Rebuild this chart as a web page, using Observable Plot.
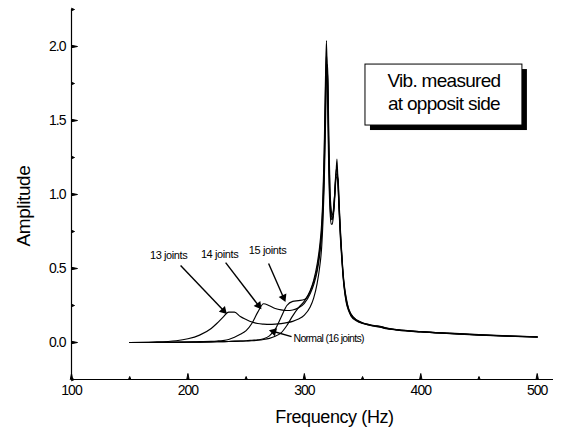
<!DOCTYPE html>
<html>
<head>
<meta charset="utf-8">
<script src="https://cdn.jsdelivr.net/npm/d3@7"></script>
<script src="https://cdn.jsdelivr.net/npm/@observablehq/plot@0.6"></script>
<style>
  body { margin: 0; background: #fff; }
  #chart svg { display: block; }
  g[aria-label="x-axis tick label"] text,
  g[aria-label="y-axis tick label"] text { letter-spacing: -1px; }
  .note text { letter-spacing: -0.4px; }
  .note-wide text { letter-spacing: -0.7px; }
  .title text { letter-spacing: -0.4px; }
  .box text { letter-spacing: -0.7px; }
</style>
</head>
<body>
<div id="chart"></div>
<script>
// Frequency grid (Hz) shared by all four response curves
const freq = [150,170,190,200,210,220,225,230,235,240,245,250,255,260,265,270,275,280,285,290,295,300,305,308,311,313,315,316,317,318,319,320,321,322,323,324,325,326,327,328,329,330,331,332,333,334,336,338,340,345,350,355,360,365,370,380,400,425,450,475,500];

// Vibration amplitude measured at the opposite side
const ampNormal = [0,0,0.001,0.002,0.003,0.004,0.005,0.006,0.007,0.008,0.009,0.01,0.012,0.015,0.02,0.028,0.042,0.065,0.115,0.18,0.235,0.28,0.35,0.42,0.53,0.64,0.82,1.0,1.28,1.72,2.04,1.62,1.15,0.9,0.8,0.8,0.86,0.96,1.1,1.24,1.05,0.86,0.7,0.58,0.47,0.38,0.27,0.215,0.18,0.145,0.128,0.118,0.11,0.104,0.094,0.084,0.071,0.06,0.05,0.042,0.036];
const amp15 = [0,0,0.001,0.002,0.003,0.004,0.005,0.006,0.007,0.009,0.01,0.012,0.015,0.018,0.025,0.045,0.09,0.17,0.25,0.278,0.283,0.29,0.345,0.41,0.5,0.61,0.78,0.95,1.22,1.64,1.95,1.74,1.24,0.95,0.84,0.83,0.88,0.99,1.14,1.18,1.06,0.88,0.72,0.6,0.48,0.39,0.28,0.22,0.185,0.148,0.13,0.12,0.112,0.106,0.096,0.085,0.072,0.061,0.051,0.043,0.037];
const amp14 = [0,0.001,0.003,0.004,0.006,0.008,0.01,0.013,0.02,0.035,0.055,0.08,0.13,0.205,0.262,0.248,0.23,0.22,0.216,0.22,0.235,0.265,0.33,0.39,0.48,0.58,0.74,0.9,1.14,1.52,1.86,1.8,1.32,1.0,0.87,0.84,0.88,0.99,1.12,1.14,1.08,0.9,0.74,0.61,0.49,0.4,0.29,0.225,0.19,0.15,0.132,0.121,0.113,0.108,0.097,0.086,0.073,0.062,0.052,0.044,0.038];
const amp13 = [0,0.003,0.012,0.025,0.05,0.095,0.13,0.17,0.205,0.205,0.175,0.155,0.138,0.128,0.124,0.122,0.124,0.128,0.134,0.143,0.158,0.185,0.24,0.3,0.4,0.5,0.66,0.82,1.05,1.4,1.78,1.88,1.4,1.04,0.9,0.86,0.9,1.0,1.1,1.12,1.1,0.92,0.76,0.62,0.5,0.41,0.3,0.23,0.194,0.152,0.134,0.123,0.115,0.11,0.099,0.087,0.074,0.063,0.053,0.045,0.039];

const seriesNames = ["Normal (16 joints)", "15 joints", "14 joints", "13 joints"];
const seriesValues = [ampNormal, amp15, amp14, amp13];

// Axes
const xDomain = [100, 514];
const yDomain = [-0.25, 2.25];
const xMajor = [100, 200, 300, 400, 500];
const xMinor = [150, 250, 350, 450];
const yMajor = [0, 0.5, 1.0, 1.5, 2.0];
const yMinor = [-0.25, 0.25, 0.75, 1.25, 1.75, 2.25];

// Curve labels with their pointer arrows (data units)
const labels = [
  {text: "13 joints", x: 183.4, y: 0.588},
  {text: "14 joints", x: 227.2, y: 0.595},
  {text: "15 joints", x: 268.4, y: 0.622}
];
const normalLabel = [{text: "Normal (16 joints)", x: 290.7, y: 0.027}];
const pointers = [
  {x1: 193.7, y1: 0.52, x2: 230.6, y2: 0.216},
  {x1: 232.4, y1: 0.54, x2: 260.6, y2: 0.25},
  {x1: 269.3, y1: 0.534, x2: 282.1, y2: 0.304},
  {x1: 289.0, y1: 0.04, x2: 273.6, y2: 0.074}
];

// Boxed note in the upper right
const noteText = "Vib. measured\nat opposit side";
const noteBox = [{x1: 352.5, x2: 487.3, y1: 1.466, y2: 1.878}];
const notePos = [{x: 419.9, y: 1.70}];

const rows = [];
seriesNames.forEach((name, k) => {
  freq.forEach((f, i) => rows.push({series: name, freq: f, amp: seriesValues[k][i]}));
});

const layout = {width: 565, height: 430, marginLeft: 71, marginRight: 12, marginTop: 9, marginBottom: 51};

// Screen-space scales, used to orient each pointer's filled head
const sx = Plot.scale({x: {domain: xDomain, range: [layout.marginLeft, layout.width - layout.marginRight]}});
const sy = Plot.scale({y: {domain: yDomain, range: [layout.height - layout.marginBottom, layout.marginTop]}});
const heading = d => {
  const ddx = sx.apply(d.x2) - sx.apply(d.x1);
  const ddy = sy.apply(d.y2) - sy.apply(d.y1);
  return Math.atan2(ddx, -ddy) * 180 / Math.PI;
};

// Inward tick mark drawn as a short stroke of the given pixel length
const tickShape = len => ({draw(context) { context.moveTo(0, 0); context.lineTo(0, -len); }});

const chart = Plot.plot({
  ...layout,
  style: {fontFamily: "'Liberation Sans', Arial, sans-serif", background: "white", color: "black"},
  x: {domain: xDomain, axis: null},
  y: {domain: yDomain, axis: null},
  marks: [
    Plot.axisX({ticks: xMajor, tickSize: 0, tickPadding: 6, tickFormat: d => String(d), fontSize: 14, label: null}),
    Plot.axisY({ticks: yMajor, tickSize: 0, tickPadding: 6, tickFormat: d3.format(".1f"), fontSize: 14, label: null}),
    // inward tick marks
    Plot.vector(xMajor, {x: d => d, y: () => yDomain[0], length: 6, rotate: 0, anchor: "start", shape: "spike", r: 1.2, fill: "black", stroke: "black", strokeWidth: 1}),
    Plot.vector(xMinor, {x: d => d, y: () => yDomain[0], length: 3, rotate: 0, anchor: "start", shape: "spike", r: 1.2, fill: "black", stroke: "black", strokeWidth: 1}),
    Plot.vector(yMajor, {x: () => xDomain[0], y: d => d, length: 6, rotate: 90, anchor: "start", shape: "spike", r: 1.2, fill: "black", stroke: "black", strokeWidth: 1}),
    Plot.vector(yMinor, {x: () => xDomain[0], y: d => d, length: 3, rotate: 90, anchor: "start", shape: "spike", r: 1.2, fill: "black", stroke: "black", strokeWidth: 1}),
    Plot.ruleX([xDomain[0]], {stroke: "black", strokeWidth: 1.2}),
    Plot.ruleY([yDomain[0]], {stroke: "black", strokeWidth: 1.2}),
    Plot.line(rows, {x: "freq", y: "amp", z: "series", stroke: "black", strokeWidth: 1.15, curve: "monotone-x"}),
    Plot.link(pointers, {x1: "x1", y1: "y1", x2: "x2", y2: "y2", stroke: "black", strokeWidth: 1.4}),
    Plot.dot(pointers, {x: "x2", y: "y2", symbol: "triangle2", r: 4, rotate: heading, fill: "black", stroke: null}),
    Plot.text(labels, {x: "x", y: "y", text: "text", fontSize: 11, className: "note"}),
    Plot.text(normalLabel, {x: "x", y: "y", text: "text", textAnchor: "start", fontSize: 10.5, className: "note-wide"}),
    Plot.rect(noteBox, {x1: "x1", x2: "x2", y1: "y1", y2: "y2", fill: "black", dx: 5, dy: 5}),
    Plot.rect(noteBox, {x1: "x1", x2: "x2", y1: "y1", y2: "y2", fill: "white", stroke: "black", strokeWidth: 1}),
    Plot.text(notePos, {x: "x", y: "y", text: () => noteText, fontSize: 19, lineHeight: 1.2, className: "box"}),
    Plot.text(["Amplitude"], {frameAnchor: "left", rotate: -90, dx: -48, dy: 52, fontSize: 19, className: "title"}),
    Plot.text(["Frequency (Hz)"], {frameAnchor: "bottom", dx: 22, dy: 43, fontSize: 18, className: "title"})
  ]
});

document.getElementById("chart").append(chart);
</script>
</body>
</html>
